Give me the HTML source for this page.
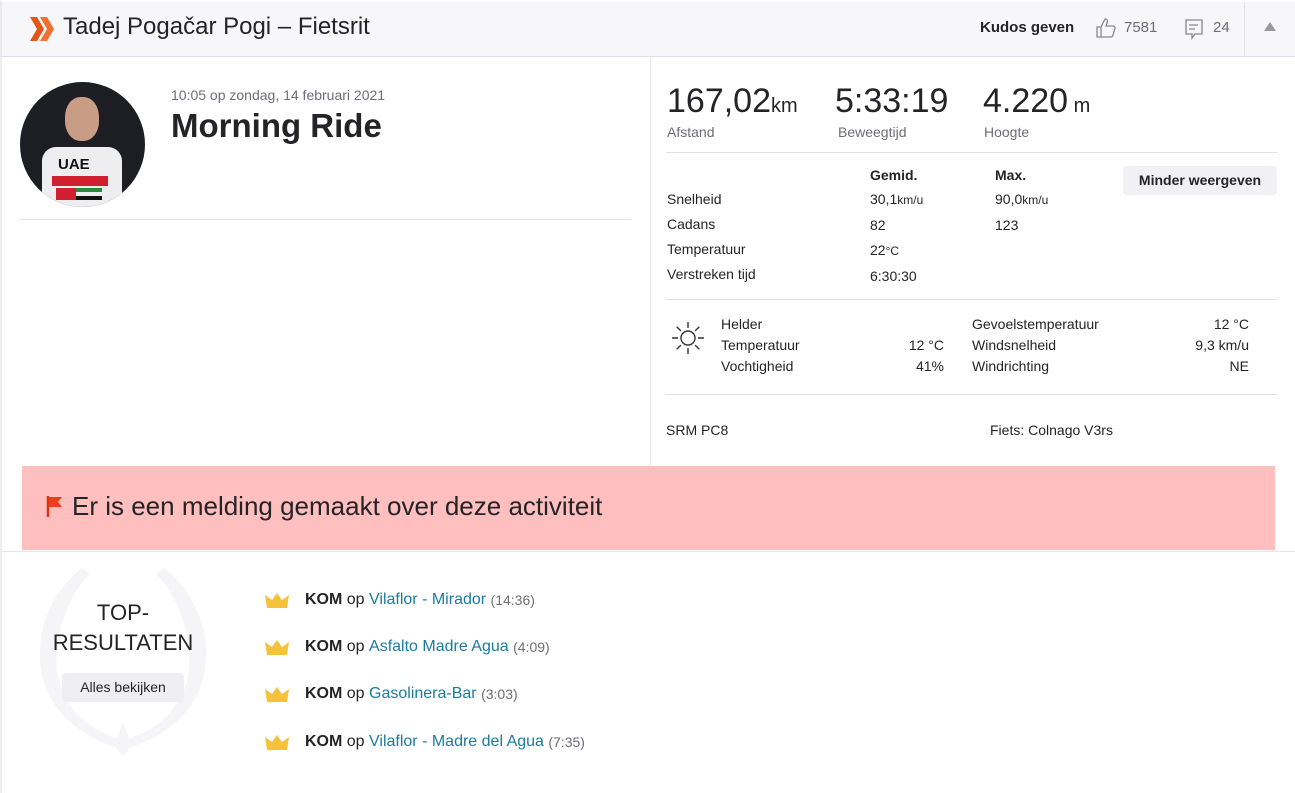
<!DOCTYPE html>
<html><head><meta charset="utf-8"><style>
*{margin:0;padding:0;box-sizing:border-box}
body{width:1295px;height:793px;background:#fff;font-family:"Liberation Sans",sans-serif;color:#242428;position:relative;overflow:hidden}
.a{position:absolute;white-space:nowrap}
.g{color:#6d6d78}
.lnk{color:#1a7ba0}
.row{height:47.3px;display:flex;align-items:center}
.row svg{margin-right:14px}
</style></head><body>
<div class="a" style="left:0;top:0;width:1295px;height:57px;background:#f7f7fa;border-bottom:1px solid #dfdfe8;border-left:2px solid #e8e8ee;border-top:2px solid #fff"></div>
<svg class="a" style="left:28px;top:16px" width="28" height="27"><polygon points="2,1 9,1 16,13 9,25 2,25 9,13" fill="#e2561a"/><polygon points="12,1 19,1 26,13 19,25 12,25 19,13" fill="#f07030"/></svg>
<div class="a" style="left:63px;top:13px;font-size:24px;color:#242428">Tadej Pogačar Pogi – Fietsrit</div>
<div class="a" style="left:980px;top:19px;font-size:15px;font-weight:bold">Kudos geven</div>
<svg class="a" style="left:1095px;top:17px" width="22" height="22" fill="none" stroke="#888" stroke-width="1.3"><path d="M2 10h4v10H2zM6 10l4-8c2 0 3 1 2 4l-1 3h7c1 0 2 1 2 2l-2 7c0 1-1 2-2 2H6"/></svg>
<div class="a g" style="left:1124px;top:19px;font-size:15px">7581</div>
<svg class="a" style="left:1184px;top:18px" width="20" height="22" fill="none" stroke="#888" stroke-width="1.3"><path d="M2 2h16v14h-7l-3 4v-4H2z"/><path d="M5 7h9M5 11h6"/></svg>
<div class="a g" style="left:1213px;top:19px;font-size:15px">24</div>
<div class="a" style="left:1244px;top:2px;width:1px;height:55px;background:#e0e0e6"></div>
<div class="a" style="left:1264px;top:22px;width:0;height:0;border-left:6px solid transparent;border-right:6px solid transparent;border-bottom:9px solid #999"></div>
<div class="a" style="left:0;top:57px;width:2px;height:736px;background:#eee"></div>

<div class="a" style="left:20px;top:82px;width:125px;height:125px;border-radius:50%;background:#1d1d24;overflow:hidden">
<div class="a" style="left:22px;top:65px;width:80px;height:70px;background:#eeeef0;border-radius:14px 14px 0 0"></div>
<div class="a" style="left:45px;top:15px;width:34px;height:44px;background:#c99c86;border-radius:45%"></div>
<div class="a" style="left:38px;top:74px;font-size:15px;font-weight:bold;color:#111">UAE</div>
<div class="a" style="left:32px;top:94px;width:56px;height:10px;background:#d02030"></div>
<div class="a" style="left:36px;top:106px;width:20px;height:12px;background:#d02030"></div>
<div class="a" style="left:56px;top:106px;width:26px;height:4px;background:#2a8a3a"></div>
<div class="a" style="left:56px;top:114px;width:26px;height:4px;background:#111"></div>
</div>
<div class="a g" style="left:171px;top:87px;font-size:14px">10:05 op zondag, 14 februari 2021</div>
<div class="a" style="left:171px;top:107px;font-size:33px;font-weight:bold">Morning Ride</div>
<div class="a" style="left:20px;top:219px;width:611px;height:1px;background:#e6e6eb"></div>
<div class="a" style="left:650px;top:57px;width:1px;height:409px;background:#e6e6eb"></div>

<div class="a" style="left:667px;top:82px;font-size:34px">167,02<span style="font-size:20px">km</span></div>
<div class="a" style="left:835px;top:82px;font-size:34px">5:33:19</div>
<div class="a" style="left:983px;top:82px;font-size:34px">4.220<span style="font-size:20px"> m</span></div>
<div class="a g" style="left:667px;top:124px;font-size:14px">Afstand</div>
<div class="a g" style="left:838px;top:124px;font-size:14px">Beweegtijd</div>
<div class="a g" style="left:984px;top:124px;font-size:14px">Hoogte</div>
<div class="a" style="left:666px;top:152px;width:611px;height:1px;background:#e0e0e6"></div>
<div class="a" style="left:870px;top:167px;font-size:14px;font-weight:bold">Gemid.</div>
<div class="a" style="left:995px;top:167px;font-size:14px;font-weight:bold">Max.</div>
<div class="a" style="left:1123px;top:166px;width:154px;height:29px;background:#f0f0f5;border-radius:4px;font-size:14px;font-weight:bold;text-align:center;line-height:29px">Minder weergeven</div>
<div class="a" style="left:667px;top:187px;font-size:14px;line-height:25px">Snelheid<br>Cadans<br>Temperatuur<br>Verstreken tijd</div>
<div class="a" style="left:870px;top:187px;font-size:14px;line-height:25px">30,1<span style="font-size:12px">km/u</span><br>82<br>22<span style="font-size:12px">°C</span><br>6:30:30</div>
<div class="a" style="left:995px;top:187px;font-size:14px;line-height:25px">90,0<span style="font-size:12px">km/u</span><br>123</div>
<div class="a" style="left:666px;top:299px;width:611px;height:1px;background:#e0e0e6"></div>
<svg class="a" style="left:670px;top:320px" width="36" height="36" stroke="#333" stroke-width="1.4" fill="none"><circle cx="18" cy="18" r="7"/><path d="M18 2v6M18 28v6M2 18h6M28 18h6M6.7 6.7l4.2 4.2M25.1 25.1l4.2 4.2M6.7 29.3l4.2-4.2M25.1 10.9l4.2-4.2"/></svg>
<div class="a" style="left:721px;top:314px;font-size:14px;line-height:21px">Helder<br>Temperatuur<br>Vochtigheid</div>
<div class="a" style="left:880px;top:335px;width:64px;text-align:right;font-size:14px;line-height:21px">12 °C<br>41%</div>
<div class="a" style="left:972px;top:314px;font-size:14px;line-height:21px">Gevoelstemperatuur<br>Windsnelheid<br>Windrichting</div>
<div class="a" style="left:1150px;top:314px;width:99px;text-align:right;font-size:14px;line-height:21px">12 °C<br>9,3 km/u<br>NE</div>
<div class="a" style="left:666px;top:394px;width:611px;height:1px;background:#e0e0e6"></div>
<div class="a" style="left:666px;top:422px;font-size:14px">SRM PC8</div>
<div class="a" style="left:990px;top:422px;font-size:14px">Fiets: Colnago V3rs</div>

<div class="a" style="left:22px;top:466px;width:1253px;height:84px;background:#ffbfbf"></div>
<svg class="a" style="left:45px;top:494px" width="20" height="24"><path d="M3 2v21" stroke="#d93410" stroke-width="2.5"/><path d="M4 3h13l-4 5 4 5H4z" fill="#e8401a"/></svg>
<div class="a" style="left:72px;top:491px;font-size:26px">Er is een melding gemaakt over deze activiteit</div>
<div class="a" style="left:0;top:551px;width:1295px;height:1px;background:#e6e6eb"></div>

<svg class="a" style="left:22px;top:558px" width="202" height="200" fill="#f5f5f7"><path d="M60 10C15 45 5 110 35 150c15 20 40 35 62 40l-3-10c-25-8-45-25-55-50C28 100 38 45 68 16z"/><path d="M142 10c45 35 55 100 25 140-15 20-40 35-62 40l3-10c25-8 45-25 55-50 11-30 1-85-29-114z"/><path d="M101 165l9 22-9 12-9-12z"/></svg>
<div class="a" style="left:22px;top:598px;width:202px;text-align:center;font-size:22px;line-height:30px">TOP-<br>RESULTATEN</div>
<div class="a" style="left:62px;top:673px;width:122px;height:29px;background:#eeeef3;border-radius:4px;font-size:14px;text-align:center;line-height:29px">Alles bekijken</div>

<div class="a" style="left:264px;top:576px;font-size:16px">
<div class="row"><svg width="27" height="16"><path d="M1 3l7 5 5-7 5 7 7-5-2 13H3z" fill="#f5c33b"/></svg><b>KOM</b>&nbsp;op&nbsp;<span class="lnk">Vilaflor - Mirador</span>&nbsp;<span class="g" style="font-size:14px">(14:36)</span></div>
<div class="row"><svg width="27" height="16"><path d="M1 3l7 5 5-7 5 7 7-5-2 13H3z" fill="#f5c33b"/></svg><b>KOM</b>&nbsp;op&nbsp;<span class="lnk">Asfalto Madre Agua</span>&nbsp;<span class="g" style="font-size:14px">(4:09)</span></div>
<div class="row"><svg width="27" height="16"><path d="M1 3l7 5 5-7 5 7 7-5-2 13H3z" fill="#f5c33b"/></svg><b>KOM</b>&nbsp;op&nbsp;<span class="lnk">Gasolinera-Bar</span>&nbsp;<span class="g" style="font-size:14px">(3:03)</span></div>
<div class="row"><svg width="27" height="16"><path d="M1 3l7 5 5-7 5 7 7-5-2 13H3z" fill="#f5c33b"/></svg><b>KOM</b>&nbsp;op&nbsp;<span class="lnk">Vilaflor - Madre del Agua</span>&nbsp;<span class="g" style="font-size:14px">(7:35)</span></div>
</div>
</body></html>
